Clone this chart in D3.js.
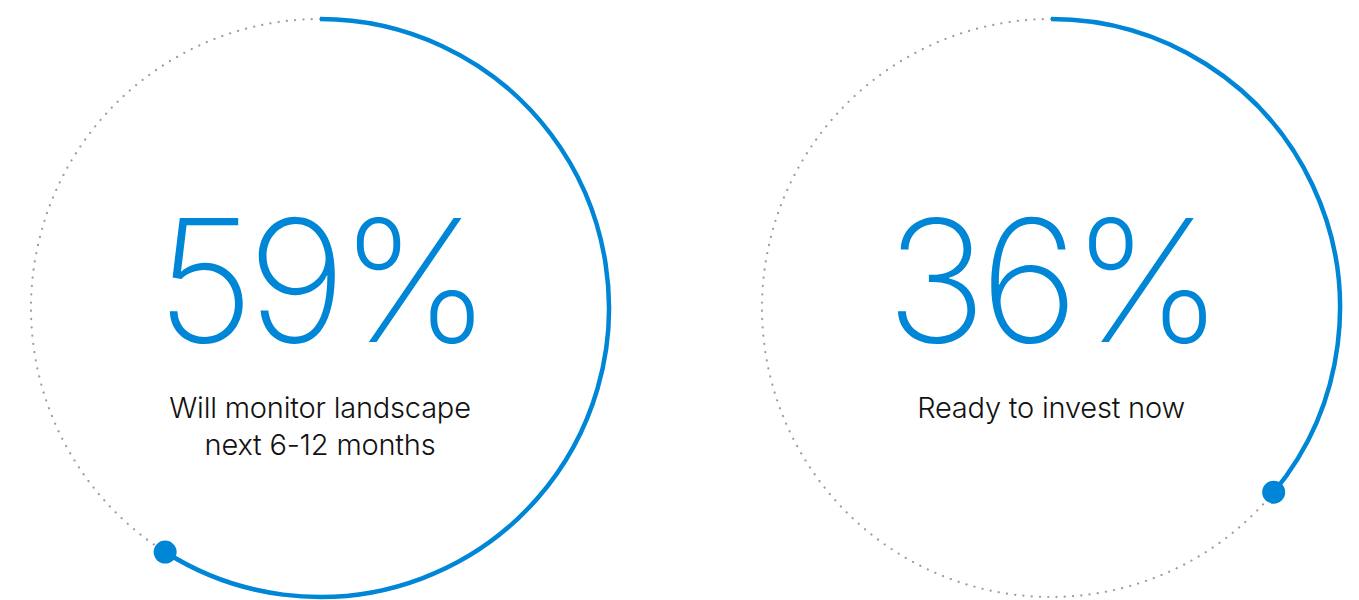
<!DOCTYPE html>
<html>
<head>
<meta charset="utf-8">
<script src="https://cdn.jsdelivr.net/npm/d3@7/dist/d3.min.js"></script>
<style>
  html, body { margin: 0; padding: 0; background: #fff; }
  svg { display: block; }
</style>
</head>
<body>
<svg id="chart" width="1359" height="600"></svg>
<script>
// Survey results shown as progress rings
const values = [59, 36];
const labels = [
  ["Will monitor landscape", "next 6-12 months"],
  ["Ready to invest now"]
];
const centersX = [320, 1051];

const W = 1359, H = 600;
const cy = 308, R = 289;
const blue = "#0086d6";

const svg = d3.select("#chart");

// maps a percentage to an angle (clockwise from 12 o'clock)
const angle = d3.scaleLinear().domain([0, 100]).range([0, 2 * Math.PI]);

const rings = svg.selectAll("g.ring")
  .data(values)
  .join("g")
  .attr("class", "ring")
  .attr("transform", (d, i) => `translate(${centersX[i]},${cy})`);

// dotted background track
rings.append("circle")
  .attr("r", R)
  .attr("fill", "none")
  .attr("stroke", "#9e9e9e")
  .attr("stroke-width", 2.2)
  .attr("stroke-linecap", "round")
  .attr("stroke-dasharray", "0.1 8.2");

// value arc
const arc = d3.arc().innerRadius(R).outerRadius(R).startAngle(0);
rings.append("path")
  .attr("d", d => arc.endAngle(angle(d))())
  .attr("fill", "none")
  .attr("stroke", blue)
  .attr("stroke-width", 4.5);

// end marker
rings.append("circle")
  .attr("cx", d => R * Math.sin(angle(d)))
  .attr("cy", d => -R * Math.cos(angle(d)))
  .attr("r", 11.5)
  .attr("fill", blue);

// big percentage
rings.append("text")
  .attr("x", 0)
  .attr("y", 342 - cy)
  .attr("text-anchor", "middle")
  .attr("font-family", "Inter, 'Noto Sans', sans-serif")
  .attr("font-weight", 200)
  .attr("font-size", 170)
  .attr("letter-spacing", -7)
  .attr("fill", blue)
  .text(d => d + "%");

// caption
rings.each(function(d, i) {
  const t = d3.select(this).append("text")
    .attr("text-anchor", "middle")
    .attr("font-family", "Inter, 'Noto Sans', sans-serif")
    .attr("font-weight", 300)
    .attr("font-size", 29)
    .attr("letter-spacing", -0.2)
    .attr("fill", "#111");
  labels[i].forEach((line, k) => {
    t.append("tspan")
      .attr("x", 0)
      .attr("y", 418 - cy + k * 37)
      .text(line);
  });
});
</script>
</body>
</html>
